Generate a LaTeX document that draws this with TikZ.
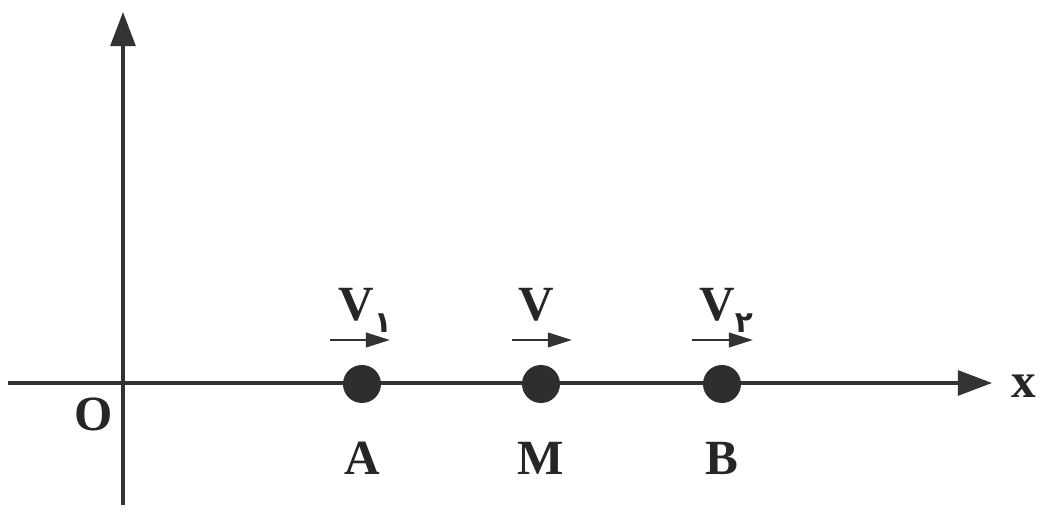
\documentclass[tikz,border=0pt]{standalone}
\usepackage{fontspec}
\setmainfont{Liberation Serif}
\newfontfamily\persfont[Script=Arabic]{DejaVu Sans}
\usetikzlibrary{positioning, arrows.meta}

\newcommand{\persub}[1]{{\persfont\fontsize{21}{21}\selectfont\raisebox{-8pt}{#1}}}

\begin{document}
\begin{tikzpicture}[
    x=0.025cm, y=-0.025cm, >=Triangle,
    pnode/.style={circle, fill=black!82, inner sep=0pt, minimum size=0.95cm},
    lnode/.style={font=\fontsize{35}{38}\selectfont\bfseries, text=black!85, inner sep=0pt},
    axis/.style={line width=2.4pt, draw=black!80, -{Triangle[length=0.85cm, width=0.62cm]}},
    varrow/.style={line width=1.8pt, draw=black!80, -{Triangle[length=0.6cm, width=0.36cm]}},
  ]
  \useasboundingbox (0,0) rectangle (1042,517);
  % axes
  \coordinate (xs) at (8,383);
  \coordinate (xe) at (992,383);
  \coordinate (ys) at (123,505);
  \coordinate (ye) at (123,12);
  \draw[axis] (xs) -- (xe);
  \draw[axis] (ys) -- (ye);
  \node[lnode] (O)  at (94,414)   {O};
  \node[lnode] (xl) at (1024,386) {x};
  % points on the axis
  \node[pnode] (A) at (362,384) {};
  \node[pnode] (M) at (541,384) {};
  \node[pnode] (B) at (722,384) {};
  \node[lnode, anchor=base] (Al) at (362,475) {A};
  \node[lnode, anchor=base] (Ml) at (541,475) {M};
  \node[lnode, anchor=base] (Bl) at (722,475) {B};
  % velocities
  \coordinate (vAs) at (330,340);  \coordinate (vAe) at (390,340);
  \coordinate (vMs) at (512,340);  \coordinate (vMe) at (572,340);
  \coordinate (vBs) at (692,340);  \coordinate (vBe) at (753,340);
  \draw[varrow] (vAs) -- (vAe);
  \draw[varrow] (vMs) -- (vMe);
  \draw[varrow] (vBs) -- (vBe);
  \node[lnode, anchor=base] (VA) at (356,321) {V\rlap{\persub{۱}}};
  \node[lnode, anchor=base] (VM) at (536,321) {V};
  \node[lnode, anchor=base] (VB) at (717,321) {V\rlap{\persub{۲}}};
\end{tikzpicture}
\end{document}
